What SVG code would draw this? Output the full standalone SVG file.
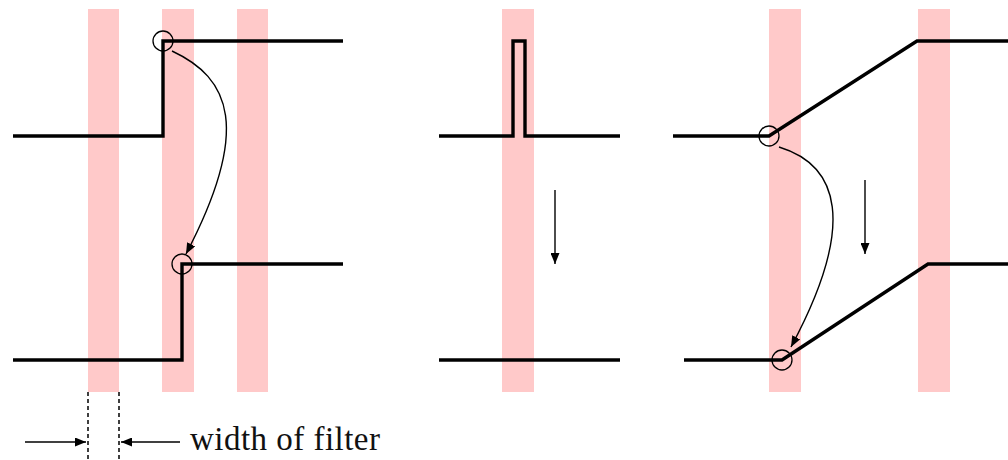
<svg xmlns="http://www.w3.org/2000/svg" width="1008" height="460" viewBox="0 0 1008 460">
<style>
.band{fill:#ffc9c9}
.sig{fill:none;stroke:#000;stroke-width:3.4;stroke-linejoin:miter}
.ring{fill:none;stroke:#000;stroke-width:1.3}
.conn{fill:none;stroke:#000;stroke-width:1.4}
.dash{fill:none;stroke:#000;stroke-width:1.5;stroke-dasharray:4 3}
.lbl{font-family:"Liberation Serif",serif;font-size:33px;fill:#111}
</style>
<defs>
<marker id="ah" viewBox="0 0 11 9" refX="11" refY="4.5" markerWidth="11" markerHeight="9" markerUnits="userSpaceOnUse" orient="auto">
<path d="M0,0 L11,4.5 L0,9 Z" fill="#000"/>
</marker>
</defs>
<g id="bands">
<rect class="band" x="88" y="9" width="31" height="383"/>
<rect class="band" x="162" y="9" width="32" height="383"/>
<rect class="band" x="237" y="9" width="31" height="383"/>
<rect class="band" x="502" y="9" width="32" height="383"/>
<rect class="band" x="769" y="9" width="32" height="383"/>
<rect class="band" x="918" y="9" width="32" height="383"/>
</g>
<g id="left-top">
<path class="sig" d="M13,136 H163 V41 H343"/>
<circle class="ring" cx="163" cy="41" r="10"/>
</g>
<g id="left-bottom">
<path class="sig" d="M13,360 H182 V264 H343"/>
<circle class="ring" cx="182" cy="264" r="10"/>
</g>
<g id="mid-top">
<path class="sig" d="M439,136 H513 V41 H525 V136 H620"/>
</g>
<g id="mid-bottom">
<path class="sig" d="M439,360 H620"/>
</g>
<g id="right-top">
<path class="sig" d="M673,136 H769 L917,41 H1008"/>
<circle class="ring" cx="769" cy="136" r="10"/>
</g>
<g id="right-bottom">
<path class="sig" d="M684,360 H782 L928,264 H1008"/>
<circle class="ring" cx="782" cy="360" r="10"/>
</g>
<g id="connectors">
<path class="conn" d="M172,51 C230,78 252,128 186,254" marker-end="url(#ah)"/>
<path class="conn" d="M779,147 C838,165 858,222 791,347" marker-end="url(#ah)"/>
<path class="conn" d="M555,190 V264" marker-end="url(#ah)"/>
<path class="conn" d="M865,180 V254" marker-end="url(#ah)"/>
<path class="dash" d="M88,392 V460 M119,392 V460"/>
<path class="conn" d="M25,442 H86" marker-end="url(#ah)"/>
<path class="conn" d="M180,442 H121" marker-end="url(#ah)"/>
</g>
<text class="lbl" x="190" y="450" textLength="190">width of filter</text>
</svg>
